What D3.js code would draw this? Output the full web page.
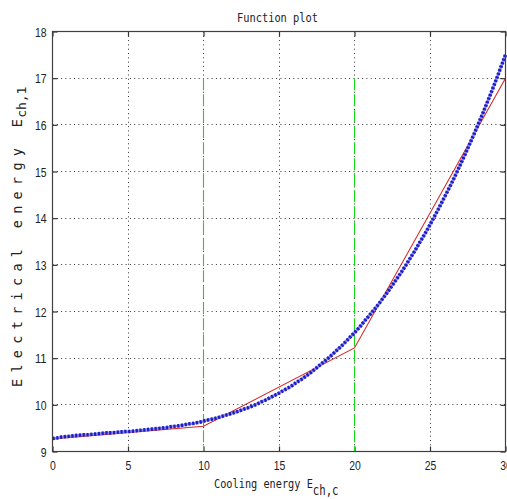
<!DOCTYPE html>
<html>
<head>
<meta charset="utf-8">
<script src="https://cdn.jsdelivr.net/npm/d3@7"></script>
<style>
  html, body { margin: 0; padding: 0; background: #fff; }
  svg { display: block; }
  text { font-family: "Liberation Sans", Arial, sans-serif; fill: #222; }
  .mono { font-family: "DejaVu Sans Mono", "Liberation Mono", monospace; }
</style>
</head>
<body>
<svg id="chart" width="507" height="499"></svg>
<script>
// Smooth model curve, sampled every 0.3 units of cooling energy
const curveStep = 0.3;
const curveValues = [
  9.28, 9.29, 9.31, 9.32, 9.33, 9.34, 9.35, 9.36, 9.36, 9.37,
  9.38, 9.39, 9.40, 9.40, 9.41, 9.42, 9.43, 9.43, 9.44, 9.45,
  9.46, 9.47, 9.48, 9.49, 9.50, 9.51, 9.53, 9.54, 9.55, 9.57,
  9.59, 9.60, 9.62, 9.64, 9.67, 9.69, 9.71, 9.74, 9.77, 9.80,
  9.83, 9.86, 9.90, 9.93, 9.97, 10.01, 10.06, 10.10, 10.15, 10.20,
  10.25, 10.31, 10.36, 10.42, 10.49, 10.55, 10.62, 10.69, 10.77, 10.85,
  10.93, 11.01, 11.10, 11.19, 11.28, 11.38, 11.48, 11.58, 11.69, 11.81,
  11.92, 12.04, 12.16, 12.29, 12.42, 12.56, 12.70, 12.84, 12.99, 13.15,
  13.30, 13.47, 13.63, 13.80, 13.98, 14.16, 14.35, 14.54, 14.73, 14.93,
  15.14, 15.35, 15.57, 15.79, 16.02, 16.25, 16.49, 16.73, 16.98, 17.24,
  17.50
];

// Piecewise-linear approximation (breakpoints)
const pieceX = [0, 10, 20, 30];
const pieceY = [9.27, 9.54, 11.22, 17.0];

// Segment boundaries
const boundaryX = [10, 20];
const boundaryTop = 17;

// Axis ticks
const xTicks = [0, 5, 10, 15, 20, 25, 30];
const yTicks = [9, 10, 11, 12, 13, 14, 15, 16, 17, 18];

const svg = d3.select("#chart");
const W = 507, H = 499;
svg.append("rect").attr("width", W).attr("height", H).attr("fill", "#fff");

const plotLeft = 52.5, plotRight = 505.5, plotTop = 31.5, plotBottom = 451.5;
const x = d3.scaleLinear().domain([0, 30]).range([plotLeft, plotRight]);
const y = d3.scaleLinear().domain([9, 18]).range([plotBottom, plotTop]);
// pixel-snapped positions for crisp 1px rules
const sx = v => Math.round(x(v) - 0.5) + 0.5;
const sy = v => Math.round(y(v) - 0.5) + 0.5;

const digitW = 5.8;

// Grid (dotted)
const grid = svg.append("g");
grid.selectAll("line.gx").data(xTicks.slice(1, -1)).join("line")
  .attr("x1", d => sx(d)).attr("x2", d => sx(d))
  .attr("y1", plotTop).attr("y2", plotBottom)
  .attr("stroke", "#333").attr("stroke-width", 1)
  .attr("stroke-dasharray", "1,3.3");
grid.selectAll("line.gy").data(yTicks.slice(1, -1)).join("line")
  .attr("y1", d => sy(d)).attr("y2", d => sy(d))
  .attr("x1", plotLeft).attr("x2", plotRight)
  .attr("stroke", "#333").attr("stroke-width", 1)
  .attr("stroke-dasharray", "1,3.3");

// Axes with inward ticks on all four sides
function styleAxis(g, showLabels) {
  g.select(".domain").remove();
  g.selectAll(".tick line").attr("stroke", "#333").attr("stroke-width", 1.2);
  if (!showLabels) g.selectAll(".tick text").remove();
}
const xAxisB = svg.append("g").attr("transform", `translate(0,${plotBottom})`)
  .call(d3.axisBottom(x).tickValues(xTicks).tickSize(-5).tickFormat(d3.format("d")));
styleAxis(xAxisB, true);
xAxisB.selectAll(".tick text")
  .attr("font-size", 13).attr("font-family", "Liberation Sans, Arial, sans-serif")
  .attr("fill", "#222")
  .attr("dy", null).attr("y", 18.5)
  .attr("textLength", d => String(d).length * digitW)
  .attr("lengthAdjust", "spacingAndGlyphs");

const xAxisT = svg.append("g").attr("transform", `translate(0,${plotTop})`)
  .call(d3.axisTop(x).tickValues(xTicks).tickSize(-5));
styleAxis(xAxisT, false);

const yAxisL = svg.append("g").attr("transform", `translate(${plotLeft},0)`)
  .call(d3.axisLeft(y).tickValues(yTicks).tickSize(-5).tickFormat(d3.format("d")));
styleAxis(yAxisL, true);
yAxisL.selectAll(".tick text")
  .attr("font-size", 13).attr("font-family", "Liberation Sans, Arial, sans-serif")
  .attr("fill", "#222")
  .attr("x", -6)
  .attr("dy", "0.35em")
  .attr("textLength", d => String(d).length * digitW)
  .attr("lengthAdjust", "spacingAndGlyphs");

const yAxisR = svg.append("g").attr("transform", `translate(${plotRight},0)`)
  .call(d3.axisRight(y).tickValues(yTicks).tickSize(-5));
styleAxis(yAxisR, false);

// Boundary lines (green dashed)
svg.append("g").selectAll("line").data(boundaryX).join("line")
  .attr("x1", d => sx(d)).attr("x2", d => sx(d))
  .attr("y1", y(boundaryTop)).attr("y2", plotBottom)
  .attr("stroke", "#19d419").attr("stroke-width", 1.1)
  .attr("stroke-dasharray", "12,4");

// Piecewise-linear approximation (red)
const pieceData = pieceX.map((v, i) => [v, pieceY[i]]);
svg.append("path").datum(pieceData)
  .attr("fill", "none").attr("stroke", "#d62828").attr("stroke-width", 1.1)
  .attr("d", d3.line().x(d => x(d[0])).y(d => y(d[1])));

// Model curve (thick blue dotted)
const curveData = curveValues.map((v, i) => [i * curveStep, v]);
const curveLine = d3.line().x(d => x(d[0])).y(d => y(d[1]));
svg.append("path").datum(curveData)
  .attr("fill", "none").attr("stroke", "#8a8ae6").attr("stroke-width", 2.6)
  .attr("d", curveLine);
svg.append("path").datum(curveData)
  .attr("fill", "none").attr("stroke", "#1c1cc8").attr("stroke-width", 3.6)
  .attr("stroke-dasharray", "2.2,1.6")
  .attr("d", curveLine);

// Frame
svg.append("rect")
  .attr("x", plotLeft).attr("y", plotTop)
  .attr("width", plotRight - plotLeft).attr("height", plotBottom - plotTop)
  .attr("fill", "none").attr("stroke", "#404040").attr("stroke-width", 1.2);

// Title
svg.append("text").attr("class", "mono")
  .attr("x", 237).attr("y", 22)
  .attr("font-size", 13)
  .attr("textLength", 81).attr("lengthAdjust", "spacingAndGlyphs")
  .text("Function plot");

// X label with subscript (narrowed monospace)
const xLabel = svg.append("text").attr("class", "mono")
  .attr("transform", "translate(214,488) scale(0.79,1)")
  .attr("font-size", 13);
xLabel.append("tspan").text("Cooling energy E");
xLabel.append("tspan").attr("dy", 7).attr("font-size", 13.5).text("ch,c");

// Y label with subscript (rotated, letter-spaced)
const yLabel = svg.append("text").attr("class", "mono")
  .attr("transform", "translate(21.5,387) rotate(-90)")
  .attr("font-size", 13.5);
yLabel.append("tspan").attr("letter-spacing", 6.3).text("Electrical energy E");
yLabel.append("tspan").attr("dy", 4.5).attr("dx", -5)
  .attr("font-size", 13).attr("letter-spacing", 0).text("ch,1");
</script>
</body>
</html>
